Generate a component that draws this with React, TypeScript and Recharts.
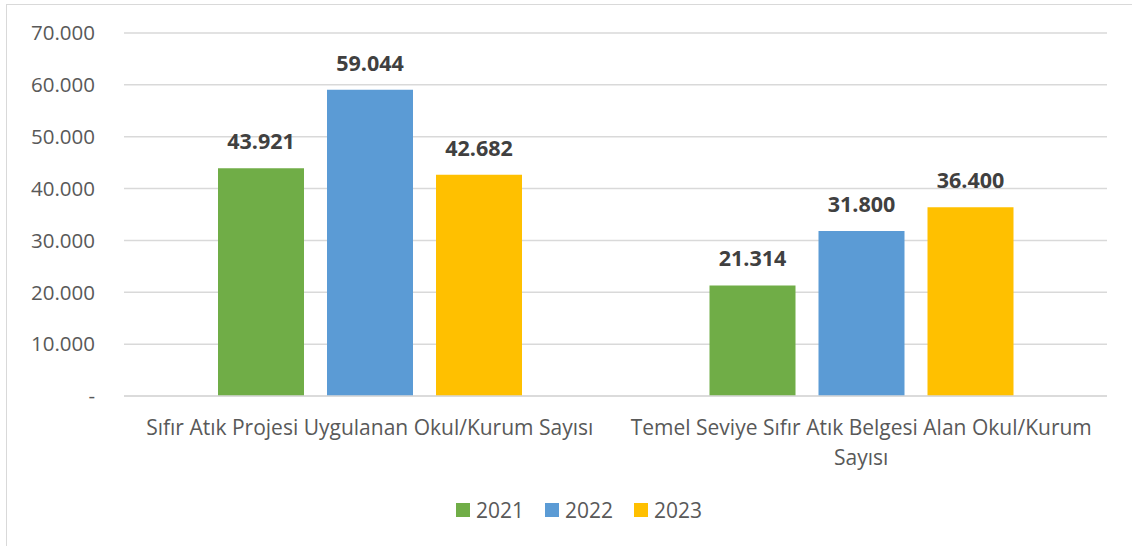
import { BarChart, Bar, XAxis, YAxis, CartesianGrid, Legend, LabelList } from "recharts";

const categories = [
  "Sıfır Atık Projesi Uygulanan Okul/Kurum Sayısı",
  "Temel Seviye Sıfır Atık Belgesi Alan Okul/Kurum Sayısı",
];
const values2021 = [43921, 21314];
const values2022 = [59044, 31800];
const values2023 = [42682, 36400];
const years = ["2021", "2022", "2023"];
const yTicks = [0, 10000, 20000, 30000, 40000, 50000, 60000, 70000];

const colors = ["#70ad47", "#5b9bd5", "#ffc000"];
const FONT = "'Open Sans', sans-serif";
const CAT_SIZE = 21;

const data = categories.map((name, i) => ({
  name,
  y2021: values2021[i],
  y2022: values2022[i],
  y2023: values2023[i],
}));

// thousands with dots, zero as a dash (Excel accounting style)
const fmt = (v: number) => (v === 0 ? "-" : String(v).replace(/\B(?=(\d{3})+(?!\d))/g, "."));

let ctx: CanvasRenderingContext2D | null = null;
function wrap(text: string, maxWidth: number) {
  if (!ctx) ctx = document.createElement("canvas").getContext("2d");
  ctx!.font = `${CAT_SIZE}px ${FONT}`;
  const lines: string[] = [];
  let cur = "";
  for (const w of text.split(" ")) {
    const next = cur ? cur + " " + w : w;
    if (cur && ctx!.measureText(next).width > maxWidth) {
      lines.push(cur);
      cur = w;
    } else cur = next;
  }
  if (cur) lines.push(cur);
  return lines;
}

function CategoryTick(props: any) {
  const { x, y, payload } = props;
  const lines = wrap(payload.value, 478);
  return (
    <text
      x={x}
      y={y + 39}
      textAnchor="middle"
      fill="#595959"
      style={{ fontFamily: FONT, fontSize: CAT_SIZE }}
    >
      {lines.map((l, i) => (
        <tspan key={i} x={x} dy={i === 0 ? 0 : 30}>
          {l}
        </tspan>
      ))}
    </text>
  );
}

function LegendContent() {
  return (
    <div style={{ display: "flex", alignItems: "center", fontFamily: FONT, fontSize: 21, color: "#595959" }}>
      {years.map((y, i) => (
        <div key={y} style={{ display: "flex", alignItems: "center", marginRight: 21 }}>
          <span style={{ width: 14, height: 14, background: colors[i], display: "inline-block", marginRight: 6 }} />
          <span>{y}</span>
        </div>
      ))}
    </div>
  );
}

export default function App() {
  return (
    <div
      style={{
        position: "fixed",
        left: 0,
        top: 0,
        width: 1132,
        height: 546,
        overflow: "hidden",
        background: "#fff",
      }}
    >
      <div
        style={{
          position: "absolute",
          left: 6,
          top: 4,
          width: 1200,
          height: 600,
          border: "1.5px solid #d9d9d9",
        }}
      />
      <div style={{ position: "absolute", left: 0, top: 0 }}>
        <BarChart
          width={1132}
          height={546}
          data={data}
          margin={{ top: 33, right: 25, left: 0, bottom: 0 }}
          barSize={86}
          barGap={23}
        >
          <CartesianGrid vertical={false} stroke="#d9d9d9" strokeWidth={1.5} />
          <XAxis
            dataKey="name"
            height={150}
            axisLine={{ stroke: "#d9d9d9", strokeWidth: 1.5 }}
            tickLine={false}
            tickSize={0}
            tickMargin={0}
            interval={0}
            tick={<CategoryTick />}
          />
          <YAxis
            width={124}
            domain={[0, 70000]}
            ticks={yTicks}
            tickFormatter={fmt}
            axisLine={false}
            tickLine={false}
            tickSize={0}
            tickMargin={29}
            tick={{ fill: "#595959", fontSize: 20.5, fontFamily: FONT }}
          />
          <Legend
            layout="horizontal"
            verticalAlign="middle"
            align="center"
            wrapperStyle={{ top: 496, left: 456, width: "auto" }}
            content={<LegendContent />}
          />
          {["y2021", "y2022", "y2023"].map((key, i) => (
            <Bar key={key} dataKey={key} name={years[i]} fill={colors[i]} isAnimationActive={false}>
              <LabelList
                dataKey={key}
                position="top"
                offset={19}
                formatter={(v: any) => fmt(Number(v))}
                style={{ fill: "#404040", fontSize: 21.5, fontWeight: 700, fontFamily: FONT }}
              />
            </Bar>
          ))}
        </BarChart>
      </div>
    </div>
  );
}
